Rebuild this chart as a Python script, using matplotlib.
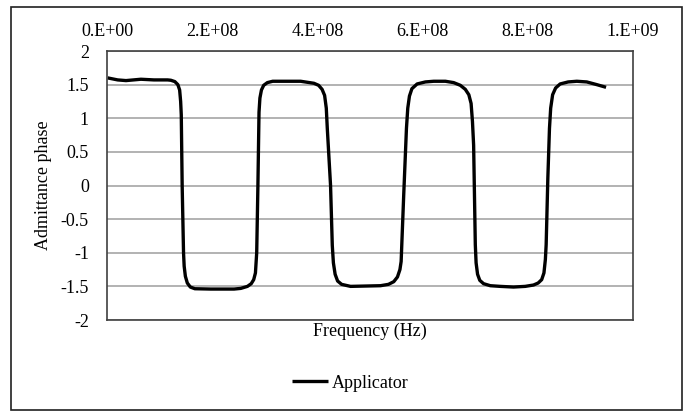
import matplotlib
matplotlib.use("Agg")
import matplotlib.pyplot as plt
from matplotlib.patches import Rectangle

# ── Data, frequency in units of 1e8 Hz ──
freq_e8 = [0.013, 0.203, 0.361, 0.645, 0.892, 1.152, 1.214, 1.290, 1.347, 1.381,
           1.400, 1.412, 1.429, 1.455, 1.467, 1.490, 1.527, 1.584, 1.670, 1.973,
           2.416, 2.543, 2.670, 2.742, 2.789, 2.822, 2.846, 2.869, 2.890, 2.907,
           2.936, 2.979, 3.049, 3.150, 3.681, 3.934, 4.023, 4.089, 4.137, 4.169,
           4.188, 4.250, 4.283, 4.304, 4.337, 4.384, 4.460, 4.630, 5.199, 5.351,
           5.452, 5.522, 5.569, 5.592, 5.641, 5.693, 5.718, 5.750, 5.797, 5.896,
           6.053, 6.211, 6.433, 6.590, 6.717, 6.812, 6.879, 6.922, 6.948, 6.970,
           7.002, 7.017, 7.045, 7.087, 7.159, 7.287, 7.476, 7.729, 7.951, 8.108,
           8.197, 8.264, 8.307, 8.334, 8.349, 8.381, 8.412, 8.435, 8.472, 8.529,
           8.615, 8.767, 8.932, 9.121, 9.311, 9.488]
phase = [1.60, 1.57, 1.56, 1.58, 1.57, 1.57, 1.565, 1.545, 1.50, 1.42,
         1.25, 1.05, 0.00, -1.00, -1.20, -1.35, -1.45, -1.51, -1.535, -1.54,
         -1.54, -1.53, -1.50, -1.46, -1.40, -1.30, -1.00, 0.00, 1.09, 1.30,
         1.42, 1.49, 1.53, 1.55, 1.55, 1.52, 1.49, 1.43, 1.34, 1.15,
         0.85, 0.00, -0.89, -1.15, -1.32, -1.42, -1.47, -1.50, -1.49, -1.47,
         -1.43, -1.36, -1.25, -1.13, -0.14, 0.85, 1.15, 1.33, 1.44, 1.51,
         1.54, 1.55, 1.55, 1.53, 1.49, 1.43, 1.35, 1.22, 0.95, 0.60,
         -0.88, -1.15, -1.32, -1.41, -1.46, -1.49, -1.50, -1.51, -1.50, -1.48,
         -1.45, -1.40, -1.30, -1.10, -0.88, 0.11, 0.85, 1.15, 1.35, 1.45,
         1.51, 1.54, 1.55, 1.54, 1.50, 1.46]

x_ticks = [0, 2e8, 4e8, 6e8, 8e8, 1e9]
x_tick_labels = ["0.E+00", "2.E+08", "4.E+08", "6.E+08", "8.E+08", "1.E+09"]
y_ticks = [2, 1.5, 1, 0.5, 0, -0.5, -1, -1.5, -2]
y_tick_labels = ["2", "1.5", "1", "0.5", "0", "-0.5", "-1", "-1.5", "-2"]

plt.rcParams["font.family"] = ["Liberation Serif", "DejaVu Serif"]

fig = plt.figure(figsize=(6.88, 4.11), dpi=100)
ax = fig.add_axes([107 / 688, 1 - 320 / 411, (633 - 107) / 688, (320 - 51) / 411])

# outer chart border
fig.patches.append(Rectangle((11 / 688, 1 / 411), 671 / 688, 403 / 411,
                             transform=fig.transFigure, fill=False,
                             edgecolor="#202020", linewidth=1.2))

freq_hz = [f * 1e8 for f in freq_e8]
ax.plot(freq_hz, phase, color="black", linewidth=2.4,
        solid_joinstyle="round", solid_capstyle="butt", label="Applicator")

ax.set_xlim(0, 1e9)
ax.set_ylim(-2, 2)
ax.set_xticks(x_ticks)
ax.set_xticklabels(x_tick_labels)
ax.set_yticks(y_ticks)
ax.set_yticklabels(y_tick_labels)
ax.xaxis.tick_top()
ax.xaxis.set_label_position("bottom")
ax.tick_params(axis="both", length=0, labelsize=13)
ax.tick_params(axis="x", pad=8)
ax.tick_params(axis="y", pad=13)

ax.yaxis.grid(True, color="#a6a6a6", linewidth=1.2)
ax.set_axisbelow(True)
for sp in ax.spines.values():
    sp.set_color("#404040")
    sp.set_linewidth(1.2)

ax.set_xlabel("Frequency (Hz)", fontsize=13, labelpad=2)
ax.set_ylabel("Admittance phase", fontsize=13, labelpad=6)

fig.legend(loc="center", bbox_to_anchor=(350 / 688, 1 - 383 / 411), frameon=False,
           fontsize=13, handlelength=2.0, handletextpad=0.2)

fig.savefig("out.png", dpi=100)
